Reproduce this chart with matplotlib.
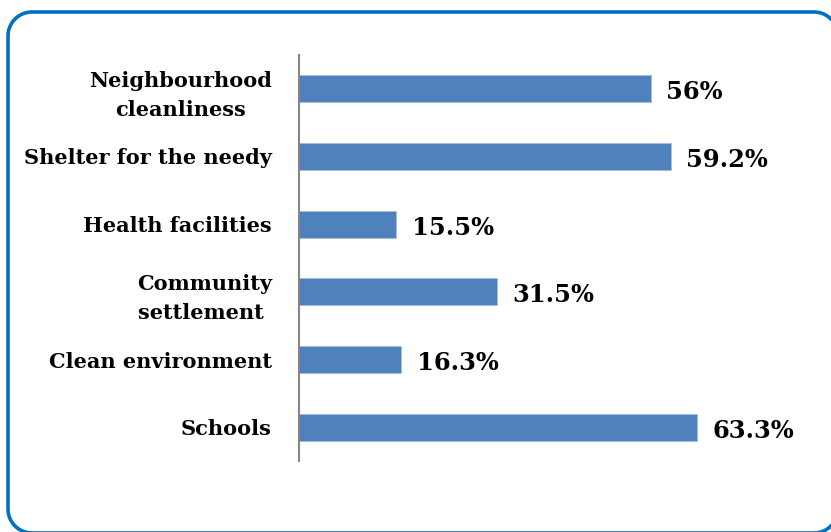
import numpy as np
import matplotlib.pyplot as plt
from matplotlib.lines import Line2D
from matplotlib.transforms import IdentityTransform

categories = [
    "Neighbourhood\ncleanliness",
    "Shelter for the needy",
    "Health facilities",
    "Community\nsettlement ",
    "Clean environment",
    "Schools",
]
values = [56.0, 59.2, 15.5, 31.5, 16.3, 63.3]
value_labels = ["56%", "59.2%", "15.5%", "31.5%", "16.3%", "63.3%"]

bar_color = "#4F81BD"
frame_color = "#0070C0"


def rounded_rect(x0, y0, x1, y1, r, n=24):
    # outline of a rounded rectangle in pixels (y up)
    pts = []
    corners = [(x1 - r, y1 - r, 0), (x0 + r, y1 - r, 90),
               (x0 + r, y0 + r, 180), (x1 - r, y0 + r, 270)]
    for cx, cy, start in corners:
        t = np.radians(np.linspace(start, start + 90, n))
        pts.extend(zip(cx + r * np.cos(t), cy + r * np.sin(t)))
    pts.append(pts[0])
    return np.array(pts)


fig = plt.figure(figsize=(8.31, 5.32), dpi=100)
fig.patch.set_facecolor("white")

outline = rounded_rect(8, -1, 838, 520, 24)
fig.add_artist(Line2D(outline[:, 0], outline[:, 1], color=frame_color,
                      linewidth=2.6, transform=IdentityTransform(), zorder=-1))

ax = fig.add_axes([299 / 831, 71 / 532, 503 / 831, 406 / 532])
ax.set_facecolor("none")
pos = list(range(len(categories)))[::-1]
ax.barh(pos, values, height=0.4, color=bar_color, edgecolor="#A7C0DE", linewidth=0.6)
ax.set_xlim(0, 80)
ax.set_ylim(-0.5, len(categories) - 0.5)

ax.set_yticks(pos)
ax.set_yticklabels(categories, fontsize=15, fontweight="bold",
                   family="DejaVu Serif", multialignment="center", linespacing=1.6)
ax.tick_params(axis="y", length=0, pad=19.5)
ax.set_xticks([])
for side in ("top", "right", "bottom"):
    ax.spines[side].set_visible(False)
ax.spines["left"].set_color("#868686")
ax.spines["left"].set_linewidth(1.5)

for p, v, lab in zip(pos, values, value_labels):
    ax.text(v + 2.4, p - 0.05, lab, ha="left", va="center", fontsize=17.4,
            fontweight="bold", family="DejaVu Serif")

fig.savefig("out.png", dpi=100)
